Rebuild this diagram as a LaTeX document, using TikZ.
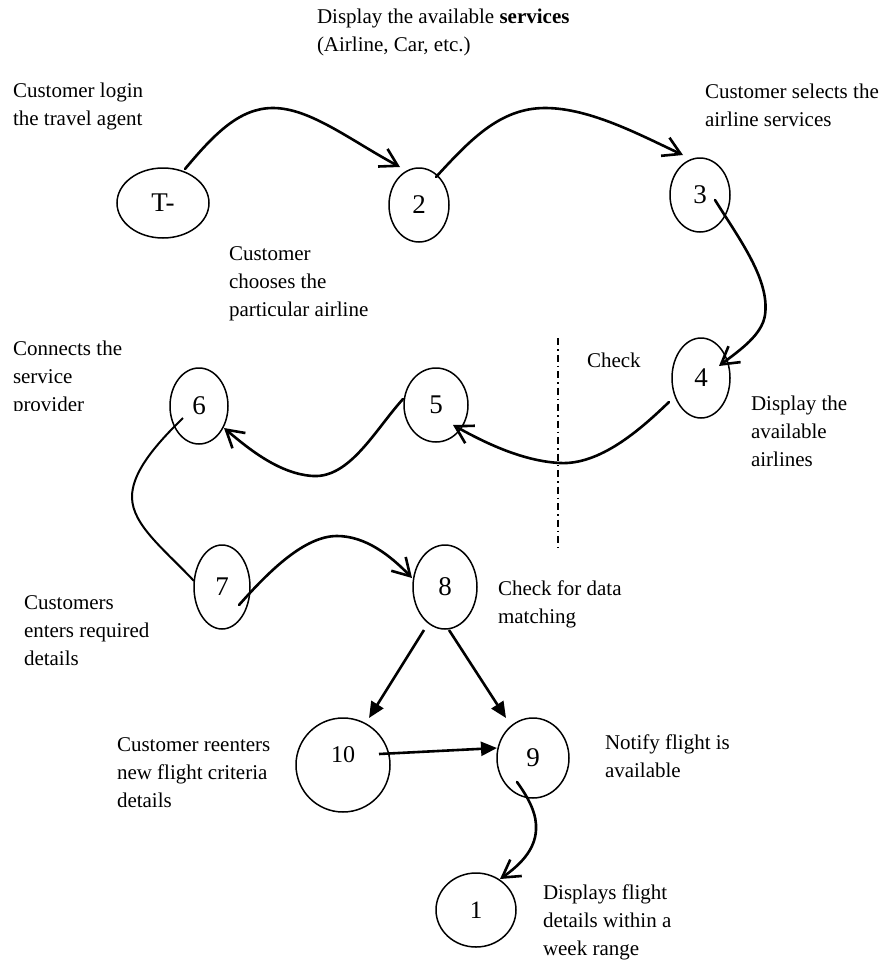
\documentclass[tikz,border=0pt]{standalone}
\usepackage{fontspec}
\setmainfont{Liberation Serif}
\usetikzlibrary{shapes.geometric,arrows.meta,calc}

\tikzset{
  lbl/.style={anchor=north west, inner sep=0pt, outer sep=0pt, align=left,
              font=\fontsize{21bp}{28bp}\selectfont},
  state/.style={draw, ellipse, line width=1.5bp, inner sep=0pt,
                font=\fontsize{27bp}{30bp}\selectfont},
  flow/.style={line width=2.6bp, line cap=round,
               -{Straight Barb[length=17bp,width=20bp,line width=2.6bp]}},
  plainflow/.style={line width=2bp},
  solid flow/.style={line width=2.6bp, -{Triangle[length=16bp,width=14bp]}},
  divider/.style={line width=1.6bp, dash pattern=on 7bp off 4bp on 1.5bp off 4bp}
}

\begin{document}
\begin{tikzpicture}[x=1bp,y=-1bp]
\useasboundingbox (0,0) rectangle (882,961);

% states
\node[state, minimum width=92bp, minimum height=70bp] (t) at (163,203) {T-};
\node[state, minimum width=60bp, minimum height=74bp] (n2) at (419,205) {2};
\node[state, minimum width=60bp, minimum height=74bp] (n3) at (700,195) {3};
\node[state, minimum width=58bp, minimum height=80bp] (n4) at (701,378) {4};
\node[state, minimum width=64bp, minimum height=74bp] (n5) at (436,405) {5};
\node[state, minimum width=58bp, minimum height=76bp] (n6) at (199,406) {6};
\node[state, minimum width=56bp, minimum height=84bp] (n7) at (222,587) {7};
\node[state, minimum width=64bp, minimum height=84bp] (n8) at (445,587) {8};
\node[state, minimum width=94bp, minimum height=94bp, font=\fontsize{24bp}{28bp}\selectfont,
      text depth=20bp] (n10) at (343,765) {10\hspace{12bp}};
\node[state, minimum width=72bp, minimum height=80bp] (n9) at (533,758) {9};
\node[state, minimum width=80bp, minimum height=74bp, font=\fontsize{25bp}{28bp}\selectfont]
      (n1) at (476,910) {1\hspace{14bp}};

% descriptions
\node[lbl] (txtservices) at (317,4) {\strut Display the available \textbf{services}\\(Airline, Car, etc.)};
\node[lbl] (txtlogin) at (13,78) {\strut Customer login\\the travel agent};
\node[lbl] (txtselect) at (705,79) {\strut Customer selects the\\airline services};
\node[lbl] (txtchoose) at (229,241) {\strut Customer\\chooses the\\particular airline};
\begin{scope}
  \clip (0,300) rectangle (160,410);
  \node[lbl] (txtconnect) at (13,336) {\strut Connects the\\service\\provider};
\end{scope}
\node[lbl] (txtcheck) at (587,348) {\strut Check};
\node[lbl] (txtairlines) at (751,391) {\strut Display the\\available\\airlines};
\node[lbl] (txtenter) at (24,590) {\strut Customers\\enters required\\details};
\node[lbl] (txtmatch) at (498,576) {\strut Check for data\\matching};
\node[lbl] (txtreenter) at (117,732) {\strut Customer reenters\\new flight criteria\\details};
\node[lbl] (txtnotify) at (605,730) {\strut Notify flight is\\available};
\node[lbl] (txtweek) at (543,880) {\strut Displays flight\\details within a\\week range};

% dash-dot separator
\draw[divider] (558,338) -- (558,548);

% transitions
\draw[flow] ($(t)+(22,-34)$) .. controls (215,133) and (240,108) .. (273,108)
            .. controls (310,108) and (350,140) .. ($(n2)+(-19,-38)$);
\draw[flow] ($(n2)+(17,-28)$) .. controls (470,140) and (500,108) .. (545,108)
            .. controls (590,108) and (640,135) .. ($(n3)+(-17,-40)$);
\draw[flow] ($(n3)+(15,5)$) .. controls (740,240) and (770,280) .. (765,315)
            .. controls (762,335) and (740,350) .. ($(n4)+(18,-12)$);
\draw[flow] ($(n4)+(-32,24)$) .. controls (640,430) and (600,465) .. (560,463)
            .. controls (520,461) and (480,440) .. ($(n5)+(17,20)$);
\draw[flow] ($(n5)+(-33,-6)$) .. controls (375,430) and (350,478) .. (313,476)
            .. controls (280,474) and (250,450) .. ($(n6)+(25,22)$);
\draw[plainflow] ($(n6)+(-16,12)$) .. controls (150,450) and (132,475) .. (132,497)
            .. controls (132,525) and (165,550) .. ($(n7)+(-28,-6)$);
\draw[flow] ($(n7)+(17,18)$) .. controls (270,570) and (305,536) .. (337,536)
            .. controls (365,536) and (390,555) .. ($(n8)+(-33,-9)$);
\draw[solid flow] ($(n8)+(-21,43)$) -- ($(n10)+(26,-47)$);
\draw[solid flow] ($(n8)+(4,43)$) -- ($(n9)+(-27,-40)$);
\draw[solid flow] ($(n10)+(36,-11)$) -- ($(n9)+(-36,-10)$);
\draw[flow] ($(n9)+(-16,24)$) .. controls (530,800) and (537,815) .. (536,830)
            .. controls (535,850) and (520,865) .. ($(n1)+(24,-31)$);
\end{tikzpicture}
\end{document}
